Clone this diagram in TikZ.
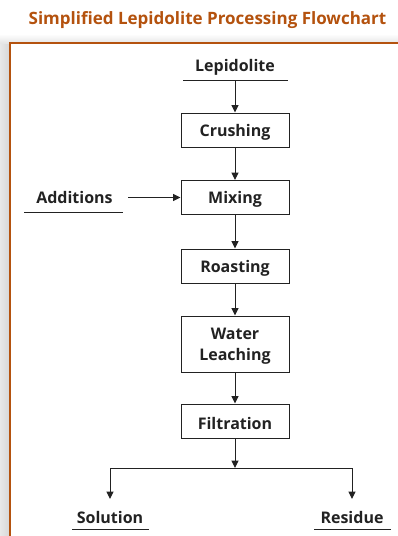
\documentclass[tikz,border=0pt]{standalone}
\usepackage{fontspec}
\setmainfont{Open Sans}
\usetikzlibrary{arrows.meta}
\definecolor{ink}{HTML}{222222}
\definecolor{rust}{HTML}{B4520E}
\newcommand\mydown[1]{\raisebox{-2pt}[\height][\depth]{#1}}
\begin{document}
\begin{tikzpicture}[x=1pt,y=-1pt,
  lbl/.style={font=\fontsize{16}{20}\selectfont\bfseries, text=ink, inner sep=0pt, yshift=-1.5pt},
  stage/.style={draw=ink, line width=1pt, minimum width=108pt, minimum height=34pt, align=center,
    font=\fontsize{16}{21}\selectfont\bfseries, text=ink, inner sep=2pt},
  ul/.style={draw=ink, line width=1pt},
  flow/.style={draw=ink, line width=1pt, -{Triangle[length=7.5pt,width=7pt]}},
  link/.style={draw=ink, line width=1pt}]
\useasboundingbox (0,0) rectangle (398,536);
% background and shadow
\fill[white] (0,0) rectangle (398,536);
\shade[left color=gray!18, right color=gray!32] (0,43) rectangle (10,536);
\shade[top color=white, bottom color=gray!20] (0,34) rectangle (398,43);
\fill[white] (10,43) rectangle (398,536);
\draw[rust, line width=1.5pt] (10,536) -- (10,43) -- (398,43);
% title
\node[font=\fontsize{17}{20}\selectfont\bfseries, text=rust, inner sep=0pt] (title) at (207.5,20) {Simplified Lepidolite Processing Flowchart};
% nodes
\node[lbl] (lep) at (235,66) {Lepidolite};
\coordinate (lepL) at (183,80); \coordinate (lepR) at (288,80); \coordinate (lepB) at (235,80);
\draw[ul] (lepL) -- (lepR);
\node[stage] (crush) at (235,130) {\mydown{Crushing}};
\node[stage] (mix) at (235,197.5) {\mydown{Mixing}};
\node[stage] (roast) at (235,266) {\mydown{Roasting}};
\node[stage, minimum height=56pt] (leach) at (235,344) {\mydown{Water}\\\mydown{Leaching}};
\node[stage] (filt) at (235,421) {\mydown{Filtration}};
\node[lbl] (add) at (74.5,196) {Additions};
\coordinate (addL) at (24,212); \coordinate (addR) at (123,212);
\draw[ul] (addL) -- (addR);
\coordinate (addA) at (128,197.5);
\node[lbl] (sol) at (110,516) {Solution};
\draw[ul] (72,529) -- (149,529);
\node[lbl] (res) at (352,516) {Residue};
\draw[ul] (314,529) -- (391,529);
\coordinate (split) at (235,468);
\coordinate (splitL) at (110,468);
\coordinate (splitR) at (352,468);
\coordinate (solT) at (110,499);
\coordinate (resT) at (352,499);
% connectors
\draw[flow] (lepB) -- (crush.north);
\draw[flow] (crush) -- (mix);
\draw[flow] (addA) -- (addA -| mix.west);
\draw[flow] (mix) -- (roast);
\draw[flow] (roast) -- (leach);
\draw[flow] (leach) -- (filt);
\draw[flow] (filt.south) -- (split);
\draw[link] (splitL) -- (splitR);
\draw[flow] (splitL) -- (solT);
\draw[flow] (splitR) -- (resT);
\end{tikzpicture}
\end{document}
